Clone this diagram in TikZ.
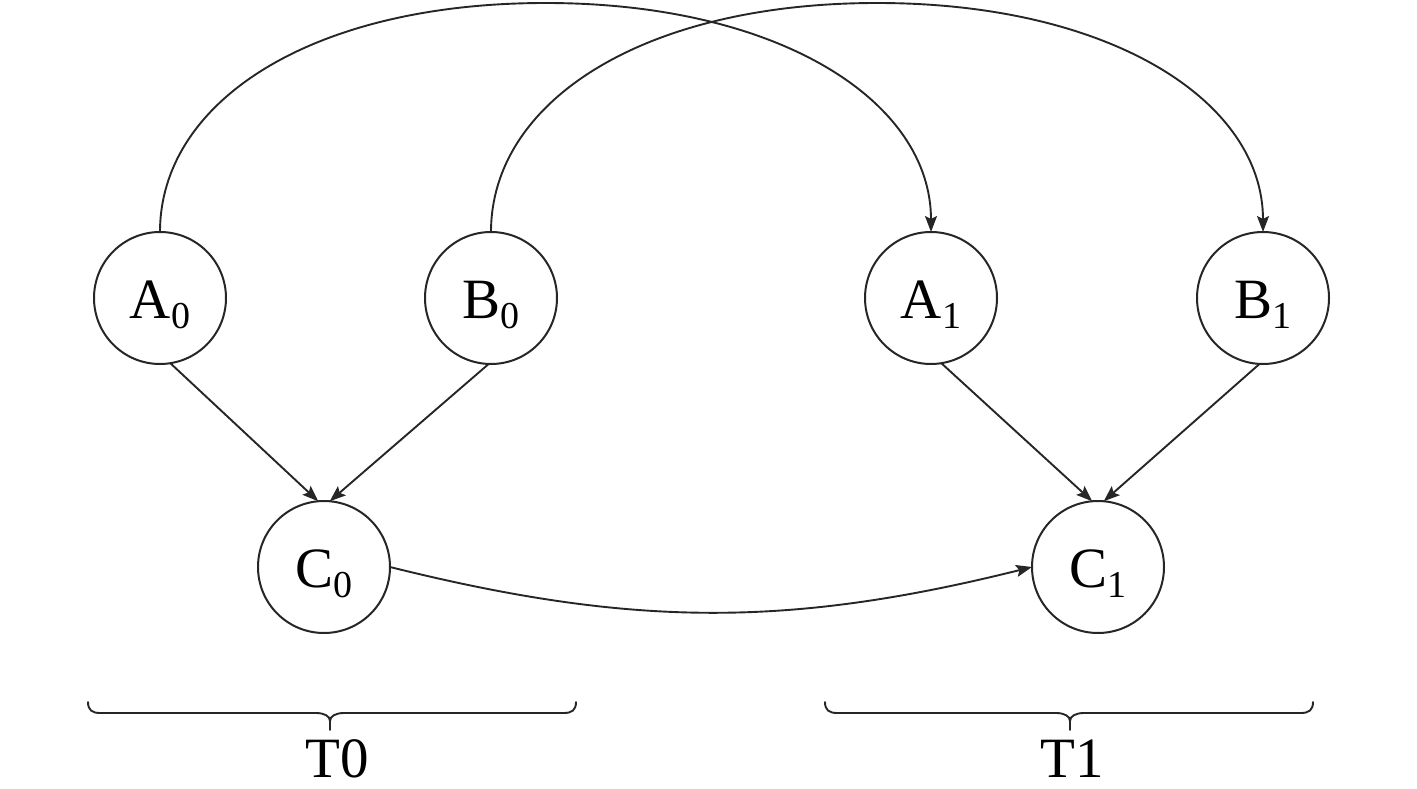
\documentclass[tikz,border=0pt]{standalone}
\usepackage{fontspec}
\setmainfont{Liberation Serif}
\usetikzlibrary{arrows.meta}
\definecolor{ink}{HTML}{262626}
\newcommand{\vname}[2]{\fontsize{57}{60}\selectfont #1\raisebox{-10pt}{\fontsize{38}{40}\selectfont #2}}
\tikzset{
  var/.style={circle, draw=ink, line width=2pt, minimum size=132pt, inner sep=0pt, outer sep=0pt,
              text height=40pt, text depth=0pt, text=black},
  conn/.style={draw=ink, line width=1.9pt, -{Stealth[length=16pt,width=12pt,inset=3pt]}},
  bracepath/.style={draw=ink, line width=1.9pt, line cap=round, line join=round},
  tlabel/.style={anchor=base, font=\fontsize{57}{60}\selectfont, inner sep=0pt, text depth=0pt}
}
\begin{document}
\begin{tikzpicture}[x=1pt,y=1pt]
\useasboundingbox (0,0) rectangle (1417,-789);
\node[var] (A0) at (160,-298) {\vname{A}{0}};
\node[var] (B0) at (491,-298) {\vname{B}{0}};
\node[var] (A1) at (931,-298) {\vname{A}{1}};
\node[var] (B1) at (1263,-298) {\vname{B}{1}};
\node[var] (C0) at (324,-567) {\vname{C}{0}};
\node[var] (C1) at (1098,-567) {\vname{C}{1}};
\coordinate (topA) at (545.5,-3);
\coordinate (topB) at (877,-3);
% long arcs
\draw[conn] (A0.north) .. controls +(0,130) and +(-235,0) .. (topA)
            .. controls +(235,0) and +(0,130) .. (A1.north);
\draw[conn] (B0.north) .. controls +(0,130) and +(-235,0) .. (topB)
            .. controls +(235,0) and +(0,130) .. (B1.north);
% straight arrows
\draw[conn] (A0.-81) -- (C0.95);
\draw[conn] (B0.-92) -- (C0.85);
\draw[conn] (A1.-81) -- (C1.95);
\draw[conn] (B1.-93) -- (C1.85);
% C0 -> C1
\draw[conn] (C0.east) to[out=-14,in=194] (C1.west);
% braces
\draw[bracepath] (88,-702) .. controls (88,-710) and (92,-713) .. (100,-713) -- (316,-713)
   .. controls (324,-713) and (330,-716) .. (330,-721) -- (330,-730)
   (330,-721) .. controls (330,-716) and (336,-713) .. (344,-713) -- (564,-713)
   .. controls (572,-713) and (576,-710) .. (576,-702);
\draw[bracepath] (825,-702) .. controls (825,-710) and (829,-713) .. (837,-713) -- (1056,-713)
   .. controls (1064,-713) and (1070,-716) .. (1070,-721) -- (1070,-730)
   (1070,-721) .. controls (1070,-716) and (1076,-713) .. (1084,-713) -- (1301,-713)
   .. controls (1309,-713) and (1313,-710) .. (1313,-702);
\node[tlabel] (T0) at (337,-777) {T0};
\node[tlabel] (T1) at (1072,-777) {T1};
\end{tikzpicture}
\end{document}
